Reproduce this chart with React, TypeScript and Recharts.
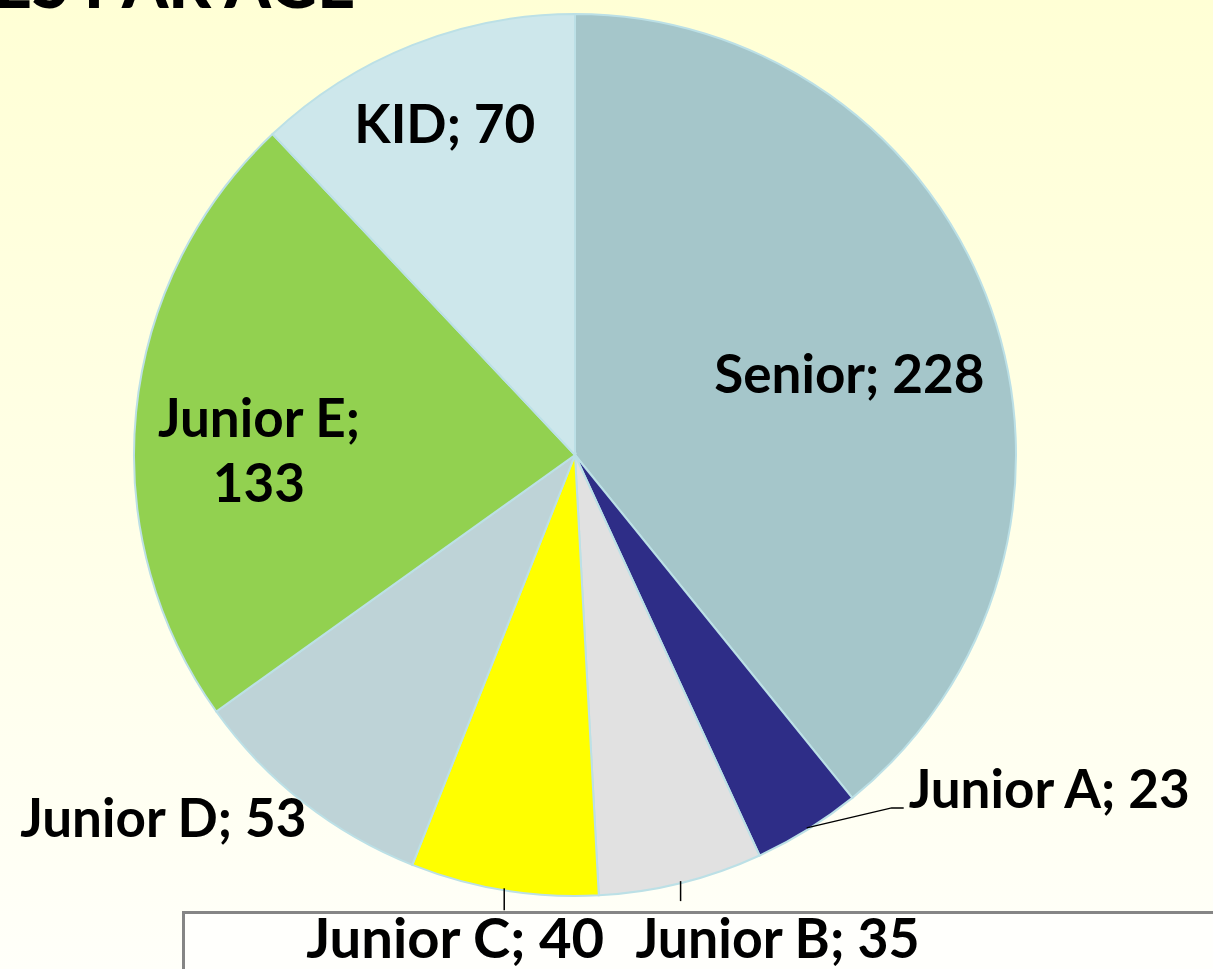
import React from "react";
import { PieChart, Pie, Cell } from "recharts";

const CATEGORIES = ["Senior", "Junior A", "Junior B", "Junior C", "Junior D", "Junior E", "KID"];
const VALUES = [228, 23, 35, 40, 53, 133, 70];
const COLORS = ["#A5C6CA", "#2E2D87", "#E1E1E1", "#FFFF00", "#BED3D7", "#92D150", "#CDE7EB"];

const TITLE = "ES PAR AGE";

const W = 1213;
const H = 969;
const FONT = "Lato, 'Open Sans', sans-serif";

const chartData = CATEGORIES.map((name, i) => ({ name, value: VALUES[i] }));

const RAD = Math.PI / 180;

// label placement per slice: inside (radius fraction) or outside with a leader line
const LABEL_STYLE: Record<string, any> = {
  Senior: { inside: 0.66, dy: 35 },
  KID: { inside: 0.8, dy: 16 },
  "Junior E": { inside: 0.72, lines: true, dy: 13 },
  "Junior A": { line: [[85, -20], [97, -20]], tx: 102, ty: -20, anchor: "start" },
  "Junior B": { line: [[0, 20]], tx: 97, ty: 77, anchor: "middle", condensed: 284 },
  "Junior C": { line: [[0, 22]], tx: -49, ty: 70, anchor: "middle", condensed: 298 },
  "Junior D": { tx: 2, ty: 36, anchor: "end" },
};

function renderLabel(props: any) {
  const { cx, cy, midAngle, outerRadius, name, value } = props;
  const cfg = LABEL_STYLE[name] || {};
  const cos = Math.cos(-midAngle * RAD);
  const sin = Math.sin(-midAngle * RAD);
  const textProps = {
    fill: "#000",
    fontFamily: FONT,
    fontWeight: 700,
    fontSize: 53,
  };

  if (cfg.inside) {
    const x = cx + outerRadius * cfg.inside * cos;
    const y = cy + outerRadius * cfg.inside * sin;
    if (cfg.lines) {
      return (
        <text x={x} y={y} textAnchor="middle" {...textProps}>
          <tspan x={x} dy={cfg.dy}>{`${name};`}</tspan>
          <tspan x={x} dy={65}>{value}</tspan>
        </text>
      );
    }
    return (
      <text x={x} y={y + cfg.dy} textAnchor="middle" {...textProps}>
        {`${name}; ${value}`}
      </text>
    );
  }

  const ex = cx + (outerRadius - 2) * cos;
  const ey = cy + (outerRadius - 2) * sin;
  const pts = [[ex, ey], ...(cfg.line || []).map((p: number[]) => [ex + p[0], ey + p[1]])];
  const d = pts.map((p, i) => `${i === 0 ? "M" : "L"}${p[0]},${p[1]}`).join(" ");
  const extra = cfg.condensed
    ? { textLength: cfg.condensed, lengthAdjust: "spacingAndGlyphs", fontSize: 56 }
    : {};
  return (
    <g>
      {cfg.line && <path d={d} stroke="#000" strokeWidth={1.5} fill="none" />}
      <text x={ex + cfg.tx} y={ey + cfg.ty} textAnchor={cfg.anchor} {...textProps} {...extra}>
        {`${name}; ${value}`}
      </text>
    </g>
  );
}

export default function App() {
  return (
    <div
      style={{
        position: "fixed",
        left: 0,
        top: 0,
        width: W,
        height: H,
        overflow: "hidden",
        background: "linear-gradient(to bottom, #FFFFD5 0%, #FFFFE6 50%, #FFFFF9 100%)",
      }}
    >
      <div
        style={{
          position: "absolute",
          left: -6,
          top: -50,
          fontFamily: FONT,
          fontWeight: 900,
          fontSize: 66,
          lineHeight: "66px",
          color: "#000",
          whiteSpace: "nowrap",
        }}
      >
        {TITLE}
      </div>
      <div
        style={{
          position: "absolute",
          left: 182,
          top: 911,
          width: 1100,
          height: 200,
          borderLeft: "3px solid #858585",
          borderTop: "3px solid #858585",
          background: "#FFFFFC",
        }}
      />
      <div style={{ position: "absolute", left: 0, top: 0 }}>
        <PieChart width={W} height={H} margin={{ top: 0, right: 0, bottom: 0, left: 0 }}>
          <Pie
            data={chartData}
            dataKey="value"
            nameKey="name"
            cx={575}
            cy={455}
            outerRadius={441}
            startAngle={90}
            endAngle={-270}
            stroke="#BCE0E6"
            strokeWidth={2}
            label={renderLabel}
            labelLine={false}
            isAnimationActive={false}
          >
            {chartData.map((d, i) => (
              <Cell key={d.name} fill={COLORS[i]} />
            ))}
          </Pie>
        </PieChart>
      </div>
    </div>
  );
}
